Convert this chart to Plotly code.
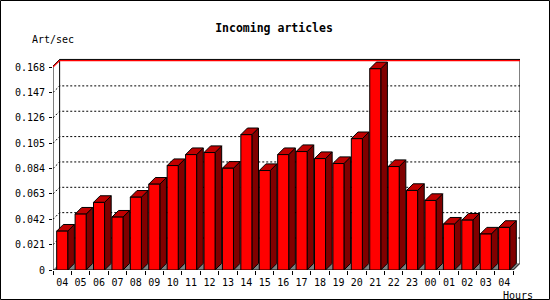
import plotly.graph_objects as go

hours = ["04", "05", "06", "07", "08", "09", "10", "11", "12", "13", "14", "15", "16",
         "17", "18", "19", "20", "21", "22", "23", "00", "01", "02", "03", "04"]
values = [0.0322, 0.0463, 0.0560, 0.0438, 0.0603, 0.0711, 0.0865, 0.0956, 0.0973,
          0.0843, 0.1121, 0.0824, 0.0956, 0.0981, 0.0923, 0.0882, 0.1088, 0.1667,
          0.0857, 0.0659, 0.0576, 0.0380, 0.0413, 0.0298, 0.0353]
y_ticks = [0, 0.021, 0.042, 0.063, 0.084, 0.105, 0.126, 0.147, 0.168]
y_ticktext = ["0", "0.021", "0.042", "0.063", "0.084", "0.105", "0.126", "0.147", "0.168"]

title = "Incoming articles"
y_title = "Art/sec"
x_title = "Hours"

# 3D look parameters (in axis units)
DX = 0.36
DY = 0.0055
W = 0.6
YMAX = y_ticks[-1]
n = len(values)
x0, x1 = -0.5, n - 0.5
YTOP = YMAX + DY + 0.0009
YRANGE_TOP = YTOP + 0.0012

FONT = "DejaVu Sans Mono"

fig = go.Figure()

def poly(points_list):
    xs, ys = [], []
    for pts in points_list:
        for (a, b) in pts:
            xs.append(a); ys.append(b)
        xs.append(pts[0][0]); ys.append(pts[0][1])
        xs.append(None); ys.append(None)
    return xs, ys

def add_poly(points_list, fill, line_color="black", width=1, dash=None):
    xs, ys = poly(points_list)
    fig.add_trace(go.Scatter(x=xs, y=ys, mode="lines", fill="toself" if fill else None,
                             fillcolor=fill, line=dict(color=line_color, width=width, dash=dash),
                             hoverinfo="skip", showlegend=False))

def add_line(xs, ys, color="black", width=1, dash=None):
    fig.add_trace(go.Scatter(x=xs, y=ys, mode="lines",
                             line=dict(color=color, width=width, dash=dash),
                             hoverinfo="skip", showlegend=False, connectgaps=False))

# floor
add_poly([[(x0, 0), (x1, 0), (x1 + DX, DY), (x0 + DX, DY)]], "#808080", line_color="#808080", width=0)

# gridlines on back wall (with small diagonal on the side)
gx, gy = [], []
for v in y_ticks[1:-1]:
    gx += [x0, x0 + DX, x1 + DX, None]
    gy += [v, v + DY, v + DY, None]
add_line(gx, gy, color="black", width=1, dash="2px,2px")

# wall edges
add_line([x0 + DX, x0 + DX], [DY, YTOP], "black")
add_line([x1, x1 + DX, x1 + DX], [0, DY, YTOP], "black")
add_line([x0, x0 + DX, x1 + DX], [YMAX + 0.0009, YTOP, YTOP], "black", 1)
add_line([x0, x0 + DX, x1 + DX], [YMAX, YMAX + DY, YMAX + DY], "#FF0000", 1.2)
# front axes
add_line([x0, x0], [0, YMAX], "black")
add_line([x0, x1], [0, 0], "black")

# bars
fronts, sides, tops = [], [], []
for i, v in enumerate(values):
    l, r = i - W / 2, i + W / 2
    fronts.append([(l, 0), (l, v), (r, v), (r, 0)])
    sides.append([(r, 0), (r + DX, DY), (r + DX, v + DY), (r, v)])
    tops.append([(l, v), (l + DX, v + DY), (r + DX, v + DY), (r, v)])
add_poly(sides, "#800000")
add_poly(tops, "#C00000")
add_poly(fronts, "#FF0000")

T, B = 58, 30
PW = 550 - 53 - 30
PH = 300 - T - B

fig.update_layout(
    width=550, height=300,
    margin=dict(l=53, r=30, t=T, b=B),
    paper_bgcolor="white", plot_bgcolor="white",
    font=dict(family=FONT, size=10, color="black"),
    title=dict(text="<b>" + title + "</b>", x=274 / 550, xanchor="center", xref="container",
               y=1 - 28 / 300, yanchor="middle", yref="container",
               font=dict(family=FONT, size=11.5, color="black")),
    xaxis=dict(range=[x0, x1 + DX], showgrid=False, zeroline=False, showline=False,
               tickmode="array", tickvals=list(range(n)), ticktext=hours, ticks="",
               ticklabelstandoff=5,
               minor=dict(tickmode="array", tickvals=[i - 0.5 for i in range(n + 1)],
                          ticks="outside", ticklen=4, tickcolor="black", tickwidth=1, showgrid=False),
               tickfont=dict(family=FONT, size=10), fixedrange=True),
    yaxis=dict(range=[0, YRANGE_TOP], showgrid=False, zeroline=False, showline=False,
               tickmode="array", tickvals=y_ticks, ticktext=y_ticktext, ticks="outside",
               ticklen=3, tickcolor="black", tickwidth=1, ticklabelstandoff=2,
               tickfont=dict(family=FONT, size=10), fixedrange=True),
    annotations=[
        dict(text=y_title, xref="paper", yref="paper", x=(30 - 53) / PW, y=(270 - 39) / PH,
             xanchor="left", yanchor="middle", showarrow=False, font=dict(family=FONT, size=10)),
        dict(text=x_title, xref="paper", yref="paper", x=(535 - 53) / PW, y=(270 - 295.5) / PH,
             xanchor="right", yanchor="middle", showarrow=False, font=dict(family=FONT, size=10)),
    ],
    shapes=[dict(type="rect", xref="paper", yref="paper",
                 x0=(0.5 - 53) / PW, x1=(549.5 - 53) / PW,
                 y0=(270 - 299.5) / PH, y1=(270 - 0.5) / PH,
                 line=dict(color="black", width=1), layer="above")],
)

fig.write_html("out.html")
